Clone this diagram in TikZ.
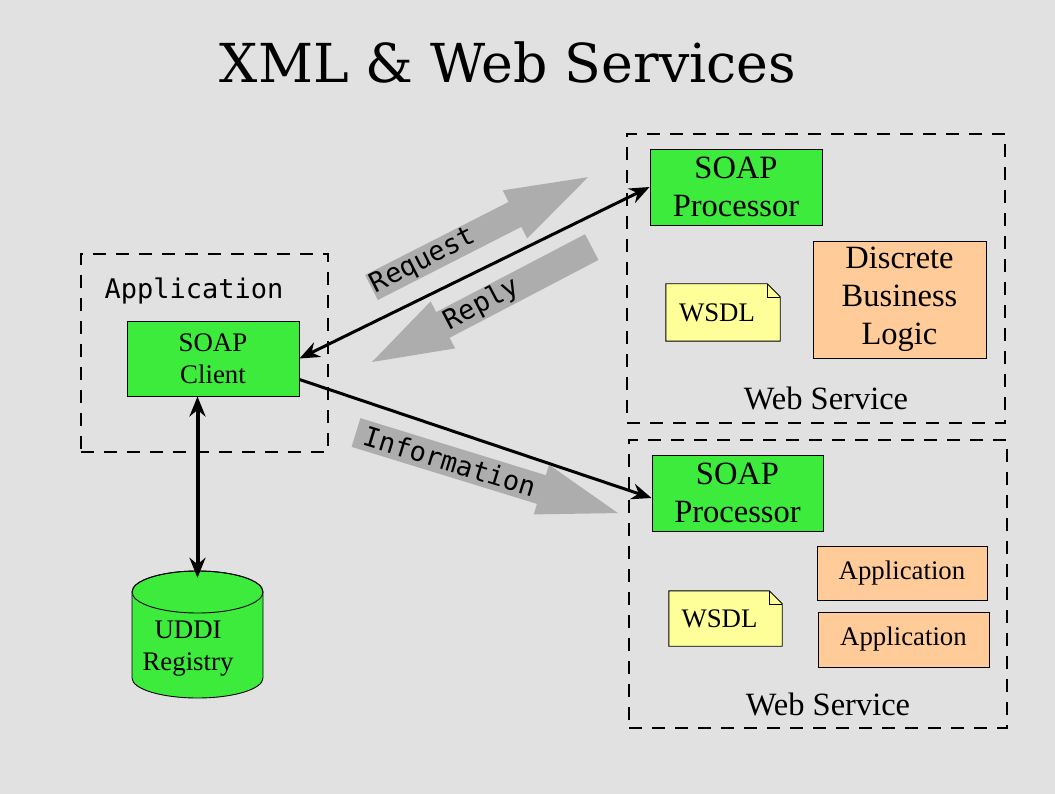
\documentclass[tikz,border=0pt]{standalone}
\usepackage{fontspec}
\usetikzlibrary{arrows.meta,calc}
\newfontfamily\tms{Liberation Serif}
\newfontfamily\monof{DejaVu Sans Mono}
\newfontfamily\ttlf{DejaVu Serif}
\definecolor{bgc}{RGB}{225,225,225}
\definecolor{grn}{RGB}{60,235,60}
\definecolor{peach}{RGB}{255,204,153}
\definecolor{ylw}{RGB}{255,255,153}
\definecolor{garrow}{RGB}{173,173,173}
\tikzset{
  greenbox/.style={draw=black,line width=0.9pt,fill=grn,inner sep=0pt,align=center},
  peachbox/.style={draw=black,line width=0.9pt,fill=peach,inner sep=0pt,align=center},
  dashbox/.style={draw=black,line width=1.1pt,dash pattern=on 13pt off 10pt,inner sep=0pt},
  bigtxt/.style={font=\tms\fontsize{32.5}{38}\selectfont},
  midtxt/.style={font=\tms\fontsize{26.8}{32}\selectfont},
  monotxt/.style={font=\monof\fontsize{27}{30}\selectfont},
  conn/.style={line width=3pt,{Stealth[length=20pt,width=16pt]}-{Stealth[length=20pt,width=16pt]}},
  conn1/.style={line width=3pt,-{Stealth[length=20pt,width=16pt]}},
  grayarr/.style={fill=garrow,draw=none}
}
\begin{document}
\begin{tikzpicture}[x=1pt,y=-1pt]
\fill[bgc] (0,0) rectangle (1055,794);
\useasboundingbox (0,0) rectangle (1055,794);

% title
\node[font=\ttlf\fontsize{53.7}{60}\selectfont] (title) at (508,62) {XML \& Web Services};

% dashed containers
\node[dashbox,minimum width=378pt,minimum height=289pt] (ws1box) at (816,278.5) {};
\node[dashbox,minimum width=378pt,minimum height=288pt] (ws2box) at (818,584) {};
\node[dashbox,minimum width=247pt,minimum height=198pt] (appbox) at (204.5,353) {};

% labels of containers
\node[bigtxt] (ws1lbl) at (826,398) {Web Service};
\node[bigtxt] (ws2lbl) at (828,704) {Web Service};
\node[monotxt] (applbl) at (194,291) {Application};

% gray block arrows
\begin{scope}[shift={(371.5,287.5)},rotate=27]
  \fill[garrow] (0,-14) -- (161,-14) -- (161,-27) -- (243,0) -- (161,27) -- (161,14) -- (0,14) -- cycle;
  \node[monotxt,transform shape] (reqlbl) at (58,0) {Request};
\end{scope}
\begin{scope}[shift={(372,362)},rotate=27.6]
  \fill[garrow] (0,0) -- (80,-26.5) -- (80,-14.5) -- (248,-14.5) -- (248,14.5) -- (80,14.5) -- (80,26.5) -- cycle;
  \node[monotxt,transform shape] (replbl) at (124,0) {Reply};
\end{scope}
\begin{scope}[shift={(356,432.5)},rotate=-17.1]
  \fill[garrow] (0,-15) -- (194,-15) -- (194,-26) -- (274,0) -- (194,26) -- (194,15) -- (0,15) -- cycle;
  \node[monotxt,transform shape] (inflbl) at (98,0) {Information};
\end{scope}

% boxes
\node[greenbox,bigtxt,minimum width=172pt,minimum height=76pt] (proc1) at (736,187) {SOAP\\Processor};
\node[peachbox,bigtxt,minimum width=173pt,minimum height=117pt] (logic) at (899.5,299.5) {Discrete\\Business\\Logic};
\node[greenbox,bigtxt,minimum width=171pt,minimum height=76pt] (proc2) at (737.5,493) {SOAP\\Processor};
\node[peachbox,midtxt,minimum width=170pt,minimum height=54pt] (app1) at (902,573) {Application};
\node[peachbox,midtxt,minimum width=171pt,minimum height=55pt] (app2) at (903.5,639.5) {Application};
\node[greenbox,midtxt,minimum width=172pt,minimum height=75pt] (client) at (213,358.5) {SOAP\\Client};

% WSDL notes
\foreach \n/\cx/\cy/\w/\h in {wsdl1/723/312.5/114/57, wsdl2/725.5/618.5/113/55}{
  \node[minimum width=\w pt,minimum height=\h pt,inner sep=0pt] (\n) at (\cx,\cy) {};
  \fill[ylw,draw=black,line width=0.9pt] (\n.north west) -- ($(\n.north east)+(-13,0)$) -- ($(\n.north east)+(0,13)$) -- (\n.south east) -- (\n.south west) -- cycle;
  \draw[line width=0.5pt] ($(\n.north east)+(-13,0)$) -- ($(\n.north east)+(-13,13)$) -- ($(\n.north east)+(0,13)$);
  \node[midtxt,inner sep=0pt] (\n-t) at ($(\n.center)+(-6,0)$) {WSDL};
}

% UDDI cylinder
\node[minimum width=131pt,minimum height=127pt,inner sep=0pt] (uddi) at (197.5,634.5) {};
\fill[grn,draw=black,line width=0.9pt] (132,592) -- (132,678) arc[start angle=180,end angle=360,x radius=65.5pt,y radius=20pt] -- (263,592) arc[start angle=0,end angle=180,x radius=65.5pt,y radius=21pt] -- cycle;
\draw[line width=0.9pt] (197.5,592) ellipse[x radius=65.5pt,y radius=21pt];
\node[midtxt,align=left,inner sep=0pt] (uddilbl) at (188,649) {\hspace*{12pt}UDDI\\Registry};

% connectors
\draw[conn] (client.east) -- (proc1.west);
\draw[conn1] ([yshift=-21pt]client.east) -- ([yshift=-5pt]proc2.west);
\draw[conn,line width=4pt] ([yshift=-7pt]uddi.north) -- (uddi.north |- client.south);
\end{tikzpicture}
\end{document}
